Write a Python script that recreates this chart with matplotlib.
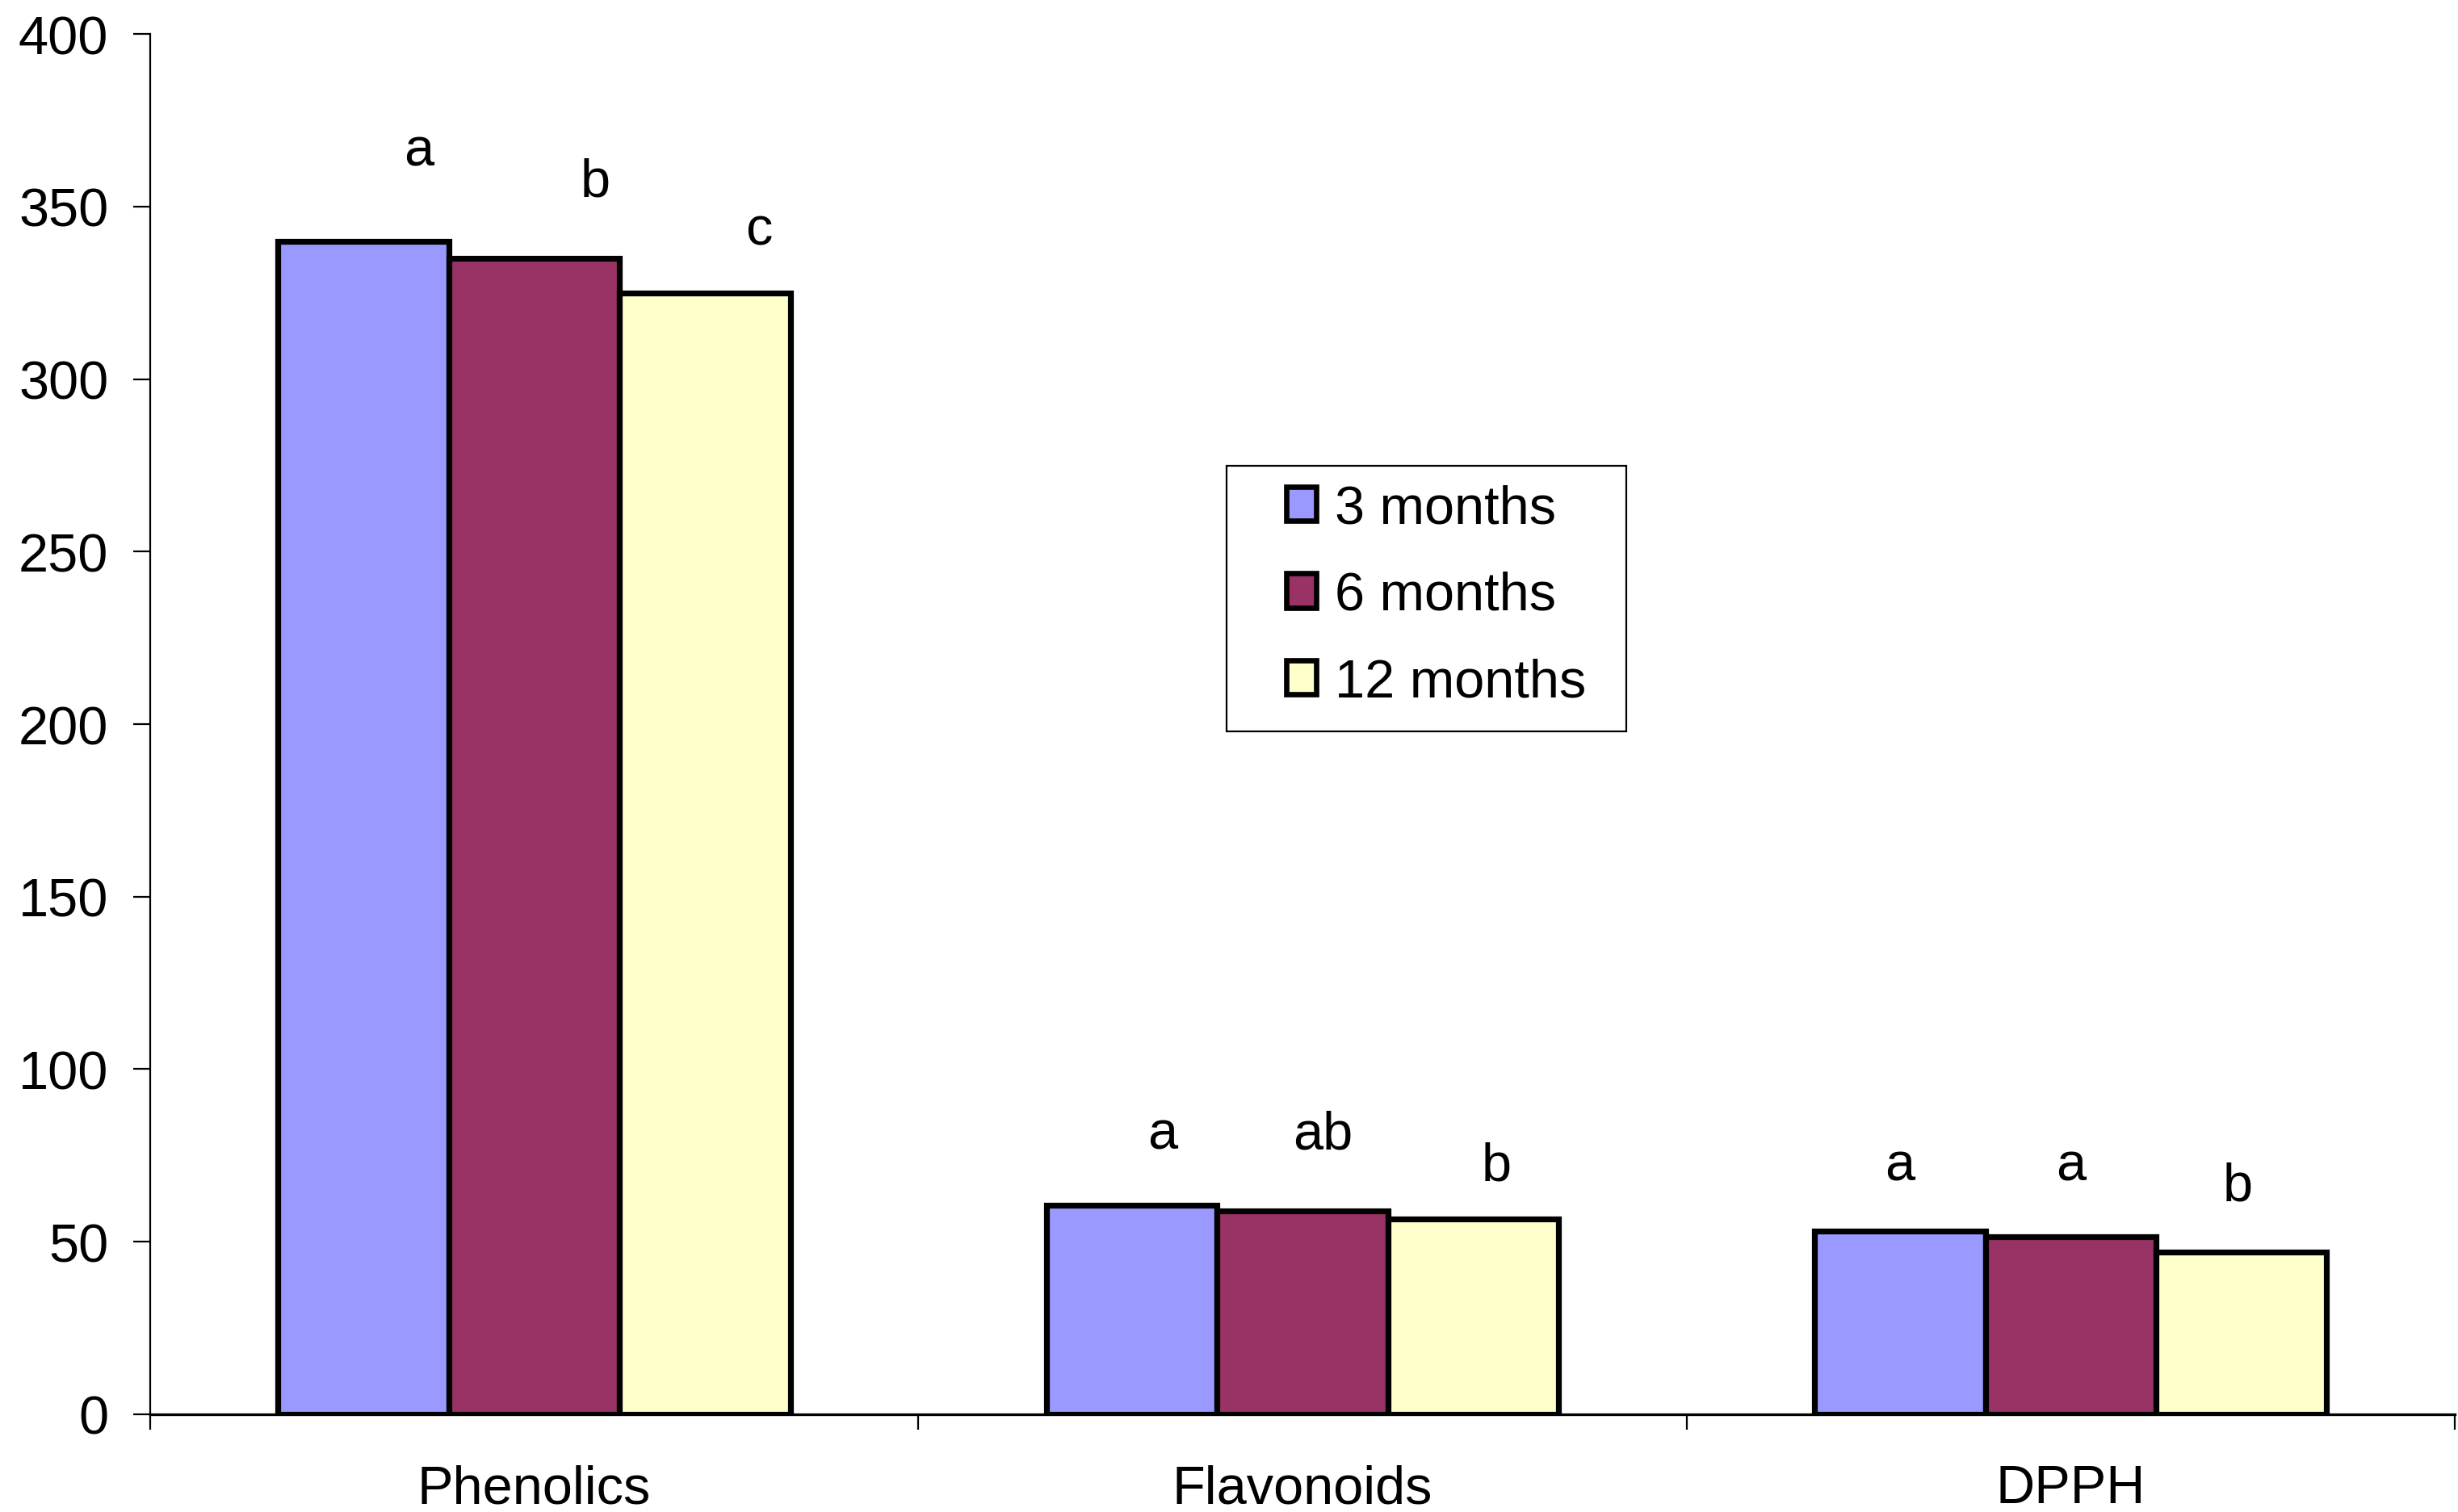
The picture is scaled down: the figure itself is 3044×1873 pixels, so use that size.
import numpy as np
import matplotlib.pyplot as plt
from matplotlib.patches import Rectangle

plt.rcParams['font.family'] = ['Liberation Sans', 'DejaVu Sans']

categories = ['Phenolics', 'Flavonoids', 'DPPH']
series = ['3 months', '6 months', '12 months']
values_3m = [340, 60.5, 53]
values_6m = [335, 59, 51.5]
values_12m = [325, 56.5, 47]
colors = ['#9999FF', '#993366', '#FFFFCC']

# significance letters and the height they sit at
letters = [['a', 'b', 'c'], ['a', 'ab', 'b'], ['a', 'a', 'b']]
letter_y = [[366, 357, 343], [81, 81, 72], [72, 72, 66]]
# small horizontal nudges of the letters, as in the original
letter_dx = [[0.072, 0.08, 0.07], [0.04, 0.027, 0.03], [0.0, 0.0, -0.005]]

fig = plt.figure(figsize=(15.22, 9.37), dpi=200)
ax = fig.add_axes([0.061, 0.0646, 0.9377, 0.9124])

x = np.arange(len(categories))
w = 1 / 4.5
all_vals = [values_3m, values_6m, values_12m]
for i, (vals, lab, col) in enumerate(zip(all_vals, series, colors)):
    ax.bar(x + (i - 1) * w, vals, w, color=col, edgecolor='black',
           linewidth=2.6, label=lab, zorder=3)

for c in range(len(categories)):
    for i in range(3):
        ax.text(c + (i - 1) * w + letter_dx[c][i], letter_y[c][i], letters[c][i],
                ha='center', va='center', fontsize=24)

ax.set_xlim(-0.5, 2.5)
ax.set_ylim(0, 400)
ax.set_yticks(np.arange(0, 401, 50))
ax.set_xticks(x)
ax.set_xticklabels(categories)
ax.set_xticks(np.arange(-0.5, 3, 1), minor=True)

ax.tick_params(axis='y', labelsize=24, length=7.5, width=0.8, pad=11, direction='out')
ax.tick_params(axis='x', which='major', labelsize=24, length=0, pad=22)
ax.tick_params(axis='x', which='minor', length=7, width=0.8, direction='out')

for s in ['top', 'right']:
    ax.spines[s].set_visible(False)
ax.spines['left'].set_linewidth(0.8)
ax.spines['bottom'].set_linewidth(1.2)
ax.spines['bottom'].set_zorder(4)

# legend box drawn separately so padding can differ horizontally / vertically
box = Rectangle((0.467, 0.495), 0.1736, 0.192, transform=ax.transAxes,
                facecolor='white', edgecolor='black', linewidth=0.8, zorder=5)
ax.add_patch(box)
leg = ax.legend(loc='upper left', bbox_to_anchor=(0.493, 0.674), fontsize=24,
                frameon=False, borderaxespad=0, borderpad=0,
                handlelength=0.55, handleheight=0.6, handletextpad=0.35,
                labelspacing=0.68)
leg.set_zorder(6)
for h in leg.legend_handles:
    h.set_linewidth(2.4)

fig.savefig('out.png', dpi=200)
